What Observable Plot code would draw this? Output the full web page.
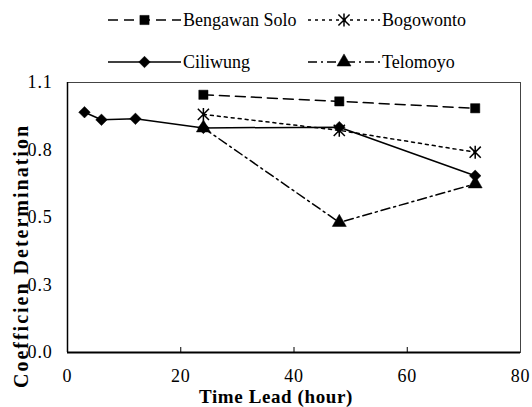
<!DOCTYPE html>
<html><head><meta charset="utf-8">
<script src="https://cdn.jsdelivr.net/npm/d3@7"></script>
<script src="https://cdn.jsdelivr.net/npm/@observablehq/plot@0.6"></script>
<style>
body{margin:0;background:#fff;font-family:"Liberation Serif","DejaVu Serif",serif;}
#wrap{position:relative;width:532px;height:407px;overflow:hidden;}
#legend{position:absolute;left:0;top:0;width:532px;height:70px;z-index:2;}
#chart{position:absolute;left:0;top:70px;z-index:1;}
.item{position:absolute;height:24px;display:flex;align-items:center;font-size:18px;white-space:nowrap;}
.item svg{display:block;margin-right:2px;}
.title{position:absolute;z-index:3;font-weight:bold;font-size:20px;line-height:20px;white-space:nowrap;transform:translate(-50%,-50%);}
#xtitle{font-size:19px;letter-spacing:0.6px;}
#ytitle{letter-spacing:2px;transform:translate(-50%,-50%) rotate(-90deg);}
</style></head><body>
<div id="wrap"><div id="legend"></div><div id="chart"></div>
<div id="xtitle" class="title" style="left:276px;top:397px"></div>
<div id="ytitle" class="title" style="left:21px;top:256px"></div>
</div>
<script>
// ---- data ----
const seriesNames = ["Bengawan Solo", "Bogowonto", "Ciliwung", "Telomoyo"];
const bengawanHours = [24, 48, 72];
const bengawanValues = [1.05, 1.023, 0.995];
const bogowontoHours = [24, 48, 72];
const bogowontoValues = [0.97, 0.905, 0.816];
const ciliwungHours = [3, 6, 12, 24, 48, 72];
const ciliwungValues = [0.979, 0.948, 0.952, 0.915, 0.918, 0.72];
const telomoyoHours = [24, 48, 72];
const telomoyoValues = [0.915, 0.53, 0.687];
const xTicks = [0, 20, 40, 60, 80];
const yTicks = [0, 0.275, 0.55, 0.825, 1.1];
const yTickLabels = ["0.0", "0.3", "0.5", "0.8", "1.1"];
const xTitle = "Time Lead (hour)";
const yTitle = "Coefficien Determination";

const FONT = '"Liberation Serif","DejaVu Serif",serif';

// ---- styles ----
const starSymbol = {
  draw(ctx, size) {
    const r = Math.sqrt(size) / 2;
    ctx.moveTo(-r, -r); ctx.lineTo(r, r);
    ctx.moveTo(-r, r); ctx.lineTo(r, -r);
    ctx.moveTo(0, -r * 1.15); ctx.lineTo(0, r * 1.15);
  }
};
const styles = [
  {dash: "10,6", symbol: d3.symbolSquare, r: 5.2, filled: true},
  {dash: "3,4", symbol: starSymbol, r: 6.3, filled: false},
  {dash: null, symbol: d3.symbolDiamond2, r: 5.2, filled: true},
  {dash: "9,4,2,4", symbol: d3.symbolTriangle, r: 5.2, filled: true}
];
const seriesData = [
  [bengawanHours, bengawanValues],
  [bogowontoHours, bogowontoValues],
  [ciliwungHours, ciliwungValues],
  [telomoyoHours, telomoyoValues]
].map(([h, v]) => h.map((x, i) => ({x, y: v[i]})));

// ---- legend ----
const legendLayout = [
  {left: 108, top: 8, w: 73},
  {left: 308, top: 8, w: 72},
  {left: 108, top: 50, w: 73},
  {left: 308, top: 50, w: 72}
];
const legend = d3.select("#legend");
seriesNames.forEach((name, i) => {
  const L = legendLayout[i], s = styles[i];
  const item = legend.append("div").attr("class", "item").style("left", L.left + "px").style("top", L.top + "px");
  const svg = item.append("svg").attr("width", L.w).attr("height", 24);
  svg.append("line").attr("x1", 0).attr("x2", L.w).attr("y1", 12).attr("y2", 12)
    .attr("stroke", "black").attr("stroke-width", 1.6).attr("stroke-dasharray", s.dash);
  svg.append("path").attr("transform", `translate(${L.w / 2},12)`)
    .attr("d", d3.symbol(s.symbol, Math.PI * s.r * s.r)())
    .attr("fill", s.filled ? "black" : "none").attr("stroke", "black").attr("stroke-width", s.filled ? 0.5 : 1.5);
  item.append("span").text(name);
});
d3.select("#xtitle").text(xTitle);
d3.select("#ytitle").text(yTitle);

// ---- chart ----
const marks = [
  Plot.frame({stroke: "#444", strokeWidth: 1}),
  Plot.ruleY([0], {stroke: "black", strokeWidth: 2}),
  Plot.ruleX([0], {stroke: "black", strokeWidth: 1.5}),
  Plot.ruleX(xTicks.slice(1, -1), {stroke: "black", strokeWidth: 1, insetTop: 265}),
  Plot.axisX(xTicks, {tickSize: 0, tickPadding: 17, fontSize: 18, label: null}),
  Plot.axisY(yTicks, {tickSize: 0, tickPadding: 15, fontSize: 18, label: null,
    tickFormat: d => yTickLabels[yTicks.indexOf(d)]})
];
seriesData.forEach((data, i) => {
  marks.push(Plot.line(data, {x: "x", y: "y", stroke: "black", strokeWidth: 1.5, strokeDasharray: styles[i].dash}));
});
seriesData.forEach((data, i) => {
  const s = styles[i];
  marks.push(Plot.dot(data, {x: "x", y: "y", symbol: s.symbol, r: s.r,
    fill: s.filled ? "black" : "none", stroke: "black", strokeWidth: s.filled ? 0.5 : 1.5}));
});

const chart = Plot.plot({
  width: 532, height: 337,
  marginTop: 12, marginBottom: 55, marginLeft: 67, marginRight: 12,
  style: {fontFamily: FONT, fontSize: "18px", letterSpacing: "0.8px", background: "transparent", color: "black", overflow: "visible"},
  x: {domain: [0, 80]},
  y: {domain: [0, 1.1]},
  marks
});
document.getElementById("chart").appendChild(chart);
</script>
</body></html>
